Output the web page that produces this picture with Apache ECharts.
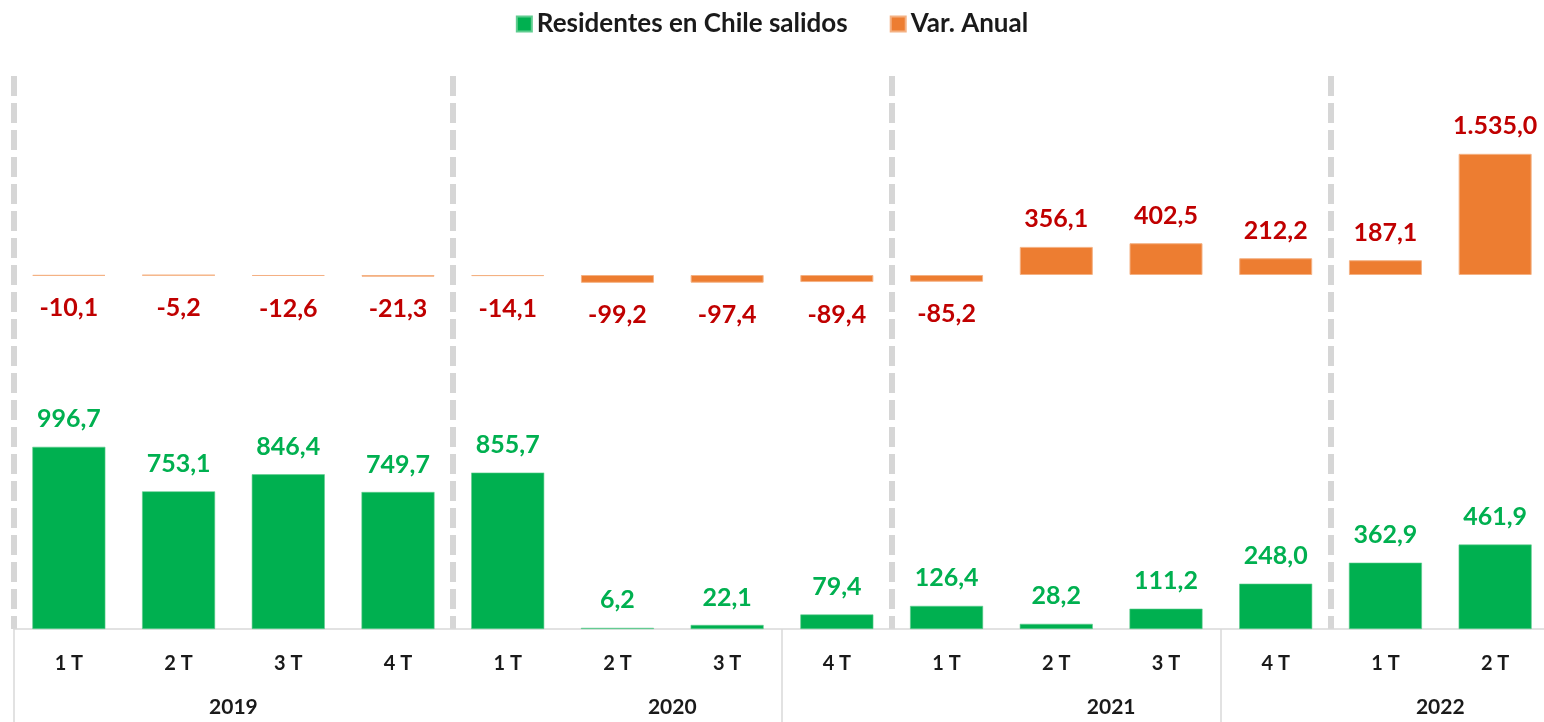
<!DOCTYPE html>
<html>
<head>
<meta charset="utf-8">
<script src="https://cdn.jsdelivr.net/npm/echarts@6/dist/echarts.min.js"></script>
<style>
  html, body { margin: 0; padding: 0; background: #fff; }
  #chart { width: 1544px; height: 722px; }
</style>
</head>
<body>
<div id="chart"></div>
<script>
// trimestres (eje x)
var quarters = ['1 T', '2 T', '3 T', '4 T', '1 T', '2 T', '3 T', '4 T', '1 T', '2 T', '3 T', '4 T', '1 T', '2 T']
// años y cuántos trimestres tiene cada uno
var years = ['2019', '2020', '2021', '2022']
var quartersPerYear = [4, 4, 4, 2]
// Residentes en Chile salidos (miles)
var residentes = [996.7, 753.1, 846.4, 749.7, 855.7, 6.2, 22.1, 79.4, 126.4, 28.2, 111.2, 248.0, 362.9, 461.9]
// Var. Anual (%)
var varAnual = [-10.1, -5.2, -12.6, -21.3, -14.1, -99.2, -97.4, -89.4, -85.2, 356.1, 402.5, 212.2, 187.1, 1535.0]

var FONT = 'Lato, "Open Sans", sans-serif'

// formato es-CL: 1.535,0
function fmt (v) {
  var s = Math.abs(v).toFixed(1).split('.')
  var ent = s[0].replace(/\B(?=(\d{3})+(?!\d))/g, '.')
  return (v < 0 ? '-' : '') + ent + ',' + s[1]
}

// posición de cada año = centro de su grupo de trimestres
var yearAt = {}
var acc = 0
quartersPerYear.forEach(function (n, i) {
  yearAt[acc + n / 2] = years[i]
  acc += n
})
// límites de grupo en el eje de etiquetas (como en el original)
var axisBreaks = [0, 7, 11]

var myChart = echarts.init(document.getElementById('chart'))
var option = {
  backgroundColor: '#fff',
  animation: false,
  legend: {
    top: 6,
    left: 'center',
    itemWidth: 15,
    itemHeight: 15,
    itemGap: 42,
    icon: 'rect',
    textStyle: { fontFamily: FONT, fontWeight: 'bold', fontSize: 26, color: '#1a1a1a' },
    data: ['Residentes en Chile salidos', 'Var. Anual']
  },
  grid: [
    { left: 14, width: 1536, top: 80, height: 240, outerBoundsMode: 'none', containLabel: false },   // var. anual
    { left: 14, width: 1536, top: 300, bottom: 93, outerBoundsMode: 'none', containLabel: false },   // residentes
    { left: 14, width: 1536, top: 76, bottom: 93, outerBoundsMode: 'none', containLabel: false }     // separadores
  ],
  xAxis: [
    { type: 'category', gridIndex: 0, data: quarters, show: false },
    {
      type: 'category', gridIndex: 1, data: quarters, position: 'bottom',
      axisLine: { show: true, lineStyle: { color: '#d9d9d9', width: 1.5 } },
      axisTick: {
        show: true, length: 96,
        interval: function (i) { return axisBreaks.indexOf(i) >= 0 },
        lineStyle: { color: '#d9d9d9', width: 1.5 }
      },
      axisLabel: {
        interval: 0, margin: 25,
        fontFamily: FONT, fontWeight: 'bold', fontSize: 20, color: '#1a1a1a'
      }
    },
    {
      type: 'category', gridIndex: 2, data: quarters,
      axisLine: { show: false }, axisTick: { show: false }, axisLabel: { show: false },
      splitLine: {
        show: true,
        interval: function (i) { return i % 4 === 0 },
        lineStyle: { color: '#d6d6d6', width: 6, type: [20, 7] }
      }
    },
    {
      type: 'value', gridIndex: 2, min: 0, max: quarters.length, interval: 1, position: 'bottom',
      axisLine: { show: false }, axisTick: { show: false }, splitLine: { show: false },
      axisLabel: {
        margin: 68,
        showMinLabel: true, showMaxLabel: true,
        fontFamily: FONT, fontWeight: 'bold', fontSize: 21, color: '#1a1a1a',
        formatter: function (v) { return yearAt[v] || '' }
      }
    }
  ],
  yAxis: [
    { type: 'value', gridIndex: 0, min: -570, max: 2470, show: false, splitLine: { show: false } },
    { type: 'value', gridIndex: 1, min: 0, max: 1800, show: false, splitLine: { show: false } },
    { type: 'value', gridIndex: 2, show: false, splitLine: { show: false } }
  ],
  series: [
    {
      name: 'Residentes en Chile salidos',
      type: 'bar',
      xAxisIndex: 1,
      yAxisIndex: 1,
      barWidth: 73,
      itemStyle: { color: '#00b050', borderColor: '#5fcc8f', borderWidth: 0.6 },
      label: {
        show: true, position: 'top', distance: 15,
        fontFamily: FONT, fontWeight: 'bold', fontSize: 25, color: '#00b050',
        formatter: function (p) { return fmt(p.value) }
      },
      data: residentes
    },
    {
      name: 'Var. Anual',
      type: 'bar',
      xAxisIndex: 0,
      yAxisIndex: 0,
      barWidth: 73,
      itemStyle: { color: '#ed7d31', borderColor: '#f4b183', borderWidth: 1 },
      data: varAnual.map(function (v) {
        return {
          value: v,
          label: {
            show: true,
            position: v < 0 ? 'bottom' : 'top',
            distance: v < 0 ? 20 : 15,
            fontFamily: FONT, fontWeight: 'bold', fontSize: 25, color: '#c00000',
            formatter: function (p) { return fmt(p.value) }
          }
        }
      })
    }
  ]
}
myChart.setOption(option)
</script>
</body>
</html>
